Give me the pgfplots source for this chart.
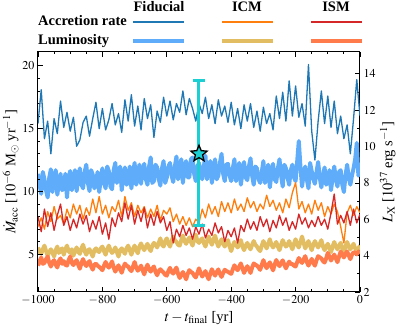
\documentclass[border=0pt]{standalone}
\usepackage{mathptmx}
\usepackage[no-math]{fontspec}
\setmainfont{Liberation Serif}
\usepackage{pgfplots}
\pgfplotsset{compat=1.18}
\usepackage{pgfplotstable}

\definecolor{cFA}{RGB}{31,119,180}
\definecolor{cIA}{RGB}{255,127,14}
\definecolor{cSA}{RGB}{214,39,40}
\definecolor{cFL}{RGB}{95,173,250}
\definecolor{cIL}{RGB}{226,189,98}
\definecolor{cSL}{RGB}{255,123,76}
\definecolor{cErr}{RGB}{28,207,210}

\pgfdeclareplotmark{fstar}{%
  \pgfpathmoveto{\pgfqpointpolar{90}{\pgfplotmarksize}}%
  \pgfpathlineto{\pgfqpointpolar{126}{0.45\pgfplotmarksize}}%
  \pgfpathlineto{\pgfqpointpolar{162}{\pgfplotmarksize}}%
  \pgfpathlineto{\pgfqpointpolar{198}{0.45\pgfplotmarksize}}%
  \pgfpathlineto{\pgfqpointpolar{234}{\pgfplotmarksize}}%
  \pgfpathlineto{\pgfqpointpolar{270}{0.45\pgfplotmarksize}}%
  \pgfpathlineto{\pgfqpointpolar{306}{\pgfplotmarksize}}%
  \pgfpathlineto{\pgfqpointpolar{342}{0.45\pgfplotmarksize}}%
  \pgfpathlineto{\pgfqpointpolar{18}{\pgfplotmarksize}}%
  \pgfpathlineto{\pgfqpointpolar{54}{0.45\pgfplotmarksize}}%
  \pgfpathclose
  \pgfusepathqfillstroke}

% accretion rates [1e-6 Msun/yr]
\pgfplotstableread{
t fa ia sa
-1000 15.4 7.2 8.0
-990 18.1 7.9 6.8
-980 14.2 7.0 8.6
-970 15.6 8.4 7.2
-960 13.0 7.6 8.3
-950 15.8 8.8 6.9
-940 14.6 7.8 8.1
-930 17.2 8.1 9.0
-920 15.1 7.4 7.3
-910 16.3 8.6 8.0
-900 14.8 7.9 6.9
-890 15.9 9.0 7.8
-880 13.6 8.2 7.1
-870 14.1 8.9 8.2
-860 15.5 7.8 7.4
-850 16.0 8.7 8.1
-840 14.4 8.1 6.8
-830 15.8 9.4 7.7
-820 17.1 8.3 7.0
-810 15.0 9.6 8.0
-800 16.6 8.2 6.6
-790 14.9 8.9 7.5
-780 15.7 7.9 6.2
-770 17.0 8.8 7.9
-760 15.3 8.4 7.2
-750 16.2 9.3 8.3
-740 14.7 8.0 7.6
-730 17.3 9.6 9.1
-720 15.6 8.5 7.8
-710 17.7 9.1 8.9
-700 15.2 8.0 7.4
-690 16.8 8.9 8.5
-680 14.9 8.3 7.6
-670 17.4 8.8 8.7
-660 15.8 7.9 7.1
-650 16.9 8.6 8.2
-640 14.3 8.0 7.3
-630 16.4 8.9 8.4
-620 15.5 7.7 7.5
-610 17.5 8.5 8.0
-600 16.0 8.2 6.9
-590 17.2 8.7 7.6
-580 15.7 7.6 5.9
-570 17.0 8.2 7.0
-560 16.3 7.4 6.4
-550 18.0 8.0 7.3
-540 16.1 7.3 6.5
-530 17.4 7.9 7.1
-520 16.6 7.2 6.2
-510 15.6 7.8 7.2
-500 17.0 7.5 6.6
-490 16.2 8.6 7.4
-480 17.5 7.9 6.3
-470 15.8 9.0 7.0
-460 16.9 8.2 6.5
-450 15.4 8.8 7.5
-440 17.3 8.0 6.7
-430 16.0 9.2 7.2
-420 16.8 8.4 6.0
-410 15.5 9.1 6.9
-400 17.1 8.3 6.4
-390 15.3 9.4 7.1
-380 16.6 8.5 5.9
-370 15.0 9.0 7.3
-360 16.9 8.4 6.8
-350 15.6 9.5 7.8
-340 17.0 8.7 7.0
-330 15.1 9.2 7.6
-320 16.4 8.4 6.9
-310 14.8 9.0 8.0
-300 16.7 8.6 7.2
-290 15.4 9.7 7.8
-280 16.2 8.8 6.8
-270 14.9 9.3 7.7
-260 17.6 8.5 7.1
-250 15.8 9.1 8.1
-240 17.9 8.3 7.3
-230 15.6 9.4 7.9
-220 18.8 8.7 6.9
-210 16.0 9.9 7.6
-200 18.4 10.7 7.0
-190 15.9 8.6 8.2
-180 17.0 9.2 7.4
-170 15.2 8.3 7.9
-160 20.1 9.0 7.1
-150 14.8 8.2 7.7
-140 12.5 9.3 7.2
-130 15.6 8.5 8.0
-120 18.0 9.1 7.3
-110 15.4 8.0 7.8
-100 17.6 8.8 7.0
-90 15.1 8.2 8.3
-80 17.2 9.0 9.8
-70 14.6 8.4 7.4
-60 16.0 7.2 8.1
-50 14.2 5.9 7.5
-40 15.3 8.3 8.4
-30 13.0 8.9 7.3
-20 15.8 8.1 8.6
-10 18.9 8.8 7.5
0 16.0 8.3 8.2
}\acctab

% luminosities [1e37 erg/s]
\pgfplotstableread{
t fl il sl
-1000 8.5 4.45 3.45
-995 7.9 4.2 3.7
-990 7.4 4.1 3.9
-985 8.6 4.35 3.55
-980 8.2 4.55 3.6
-975 7.6 4.25 3.8
-970 7.2 4.0 3.95
-965 8.3 4.2 3.6
-960 8.75 4.35 3.4
-955 7.5 4.15 3.65
-950 8.15 3.95 3.75
-945 8.7 4.3 3.5
-940 7.35 4.5 3.35
-935 8.0 4.15 3.7
-930 8.5 4.3 3.85
-925 7.6 4.4 3.55
-920 7.7 4.05 3.7
-915 8.5 4.35 3.5
-910 7.2 4.55 3.45
-905 8.3 4.25 3.75
-900 8.65 4.15 3.95
-895 7.6 4.35 3.6
-890 8.15 4.0 3.48
-885 8.7 4.25 3.65
-880 7.55 4.45 3.75
-875 8.3 4.2 3.5
-870 8.8 4.1 3.28
-865 7.9 4.4 3.6
-860 7.7 4.6 3.81
-855 8.6 4.25 3.55
-850 9.0 4.05 3.43
-845 8.0 4.3 3.6
-840 7.55 4.35 3.7
-835 8.7 4.15 3.4
-830 8.45 3.95 3.23
-825 7.7 4.3 3.5
-820 7.95 4.4 3.56
-815 8.6 4.25 3.45
-810 7.5 4.2 3.38
-805 8.2 4.4 3.3
-800 8.8 4.5 3.2
-795 8.0 4.25 3.45
-790 7.7 4.05 3.65
-785 8.9 4.35 3.45
-780 8.65 4.55 3.34
-775 7.8 4.3 3.5
-770 7.65 4.15 3.68
-765 8.7 4.25 3.35
-760 9.1 4.45 3.12
-755 8.0 4.2 3.3
-750 8.5 3.95 3.47
-745 8.9 4.3 3.25
-740 7.6 4.4 3.06
-735 8.4 4.25 3.35
-730 8.85 4.1 3.56
-725 7.9 4.4 3.45
-720 8.05 4.55 3.4
-715 8.9 4.3 3.25
-710 7.7 4.05 3.15
-705 8.5 4.35 3.4
-700 9.1 4.55 3.65
-695 7.9 4.3 3.35
-690 8.4 4.13 3.17
-685 9.0 4.5 3.3
-680 7.95 4.67 3.45
-675 8.7 4.45 3.2
-670 9.05 4.3 2.97
-665 8.2 4.5 3.3
-660 7.9 4.65 3.5
-655 8.9 4.4 3.25
-650 9.4 4.25 3.12
-645 8.0 4.55 3.3
-640 8.1 4.7 3.4
-635 9.0 4.6 3.1
-630 8.85 4.45 2.92
-625 8.2 4.7 3.15
-620 7.85 4.95 3.25
-615 8.8 4.6 3.15
-610 9.2 4.5 3.07
-605 8.0 4.8 2.95
-600 8.3 4.95 2.9
-595 8.9 4.65 3.15
-590 9.1 4.5 3.33
-585 8.4 4.8 3.1
-580 8.05 5.05 3.01
-575 8.9 4.85 3.2
-570 9.45 4.75 3.34
-565 8.2 4.6 3.0
-560 8.75 4.55 2.77
-555 9.3 4.85 2.95
-550 8.0 5.1 3.1
-545 8.9 4.8 2.9
-540 9.2 4.65 2.7
-535 8.3 4.85 3.0
-530 8.3 5.0 3.2
-525 9.3 4.75 3.1
-520 9.4 4.55 3.05
-515 8.5 4.9 2.9
-510 8.1 5.15 2.8
-505 8.9 4.8 3.05
-500 9.1 4.7 3.3
-495 8.6 4.85 3.05
-490 8.2 4.95 2.85
-485 8.9 4.7 3.0
-480 9.5 4.5 3.15
-475 8.2 4.8 2.9
-470 8.8 5.05 2.7
-465 9.2 4.8 3.0
-460 8.0 4.6 3.25
-455 8.7 4.9 3.05
-450 9.3 5.1 2.9
-445 8.2 4.75 3.1
-440 8.4 4.5 3.24
-435 9.1 4.7 3.0
-430 9.6 4.9 2.83
-425 8.5 4.65 3.05
-420 8.1 4.5 3.22
-415 9.0 4.7 3.15
-410 9.05 4.85 3.11
-405 8.4 4.5 3.05
-400 8.1 4.25 3.0
-395 8.8 4.55 3.25
-390 9.3 4.75 3.47
-385 8.1 4.6 3.3
-380 8.4 4.45 3.2
-375 9.1 4.6 3.4
-370 7.9 4.85 3.57
-365 8.6 4.5 3.3
-360 9.15 4.3 3.05
-355 8.3 4.55 3.25
-350 8.15 4.7 3.42
-345 8.9 4.5 3.25
-340 9.35 4.35 3.05
-335 8.4 4.6 3.35
-330 7.9 4.8 3.57
-325 8.9 4.6 3.5
-320 8.8 4.5 3.45
-315 8.2 4.35 3.35
-310 8.0 4.25 3.22
-305 8.6 4.55 3.5
-300 9.2 4.8 3.75
-295 8.0 4.6 3.5
-290 8.35 4.4 3.31
-285 9.0 4.65 3.5
-280 7.75 4.9 3.63
-275 8.5 4.6 3.4
-270 9.05 4.45 3.19
-265 8.2 4.6 3.5
-260 8.05 4.75 3.76
-255 8.8 4.5 3.55
-250 9.3 4.3 3.42
-245 8.4 4.6 3.6
-240 7.8 4.85 3.74
-235 9.0 4.65 3.5
-230 8.8 4.5 3.3
-225 8.3 4.6 3.5
-220 7.9 4.8 3.67
-215 8.7 4.55 3.55
-210 9.0 4.35 3.53
-205 8.3 4.65 3.45
-200 8.1 4.9 3.4
-195 9.2 4.6 3.65
-190 10.3 4.45 3.87
-185 8.9 4.75 3.7
-180 7.8 5.05 3.6
-175 8.5 4.7 3.8
-170 8.9 4.4 3.97
-165 8.2 4.6 3.65
-160 7.7 4.8 3.45
-155 9.1 4.55 3.65
-150 8.65 4.3 3.82
-145 8.2 4.6 3.6
-140 7.95 4.8 3.45
-135 8.6 4.6 3.75
-130 9.15 4.45 3.97
-125 8.3 4.65 3.9
-120 7.75 4.85 3.85
-115 8.4 4.5 3.7
-110 8.85 4.3 3.62
-105 7.9 4.5 3.85
-100 8.1 4.65 4.15
-95 8.7 4.4 3.95
-90 7.6 4.2 3.73
-85 8.3 4.5 3.9
-80 8.9 4.75 4.06
-75 8.2 4.5 3.85
-70 7.8 4.35 3.64
-65 8.6 4.55 3.95
-60 8.7 4.7 4.22
-55 7.9 4.4 4.05
-50 7.5 4.2 3.9
-45 8.4 4.5 4.1
-40 9.0 4.75 4.23
-35 8.3 4.5 4.0
-30 7.9 4.35 3.81
-25 8.4 4.5 4.05
-20 8.8 4.65 4.19
-15 9.3 4.4 4.15
-10 10.2 4.25 4.07
-5 8.4 4.4 4.2
0 8.6 4.55 4.25
}\lumtab

\pgfplotsset{
  base/.style={
    at={(0pt,0pt)}, anchor=south west,
    scale only axis, width=322pt, height=240pt,
    xmin=-1000, xmax=0,
    tick align=inside,
    major tick length=5pt, minor tick length=2.5pt,
    every tick/.style={black, line width=0.8pt},
    axis line style={line width=1pt},
    tick label style={font=\fontsize{12}{14}\selectfont},
    label style={font=\fontsize{14.5}{17}\selectfont},
    /pgf/number format/1000 sep={},
  }
}

\begin{document}
\begin{tikzpicture}
% Luminosity axis (right)
\begin{axis}[base,
  ymin=2, ymax=15.2,
  xtick={-1000,-800,...,0},
  minor x tick num=3,
  xtick pos=both, xticklabel pos=lower,
  ytick={2,4,...,14},
  minor y tick num=1,
  ytick pos=right, yticklabel pos=right,
  xlabel={$t-t_{\mathrm{final}}$ [yr]},
  ylabel={$L_{\mathrm{X}}$ [$10^{37}$ erg s$^{-1}$]},
  ylabel style={at={(axis description cs:1,0.5)}, rotate=0, anchor=north, yshift=-16.5pt},
]
\addplot[cFL, line width=4pt, line join=round] table[x=t, y=fl] {\lumtab};
\addplot[cIL, line width=4pt, line join=round] table[x=t, y=il] {\lumtab};
\addplot[cSL, line width=4pt, line join=round] table[x=t, y=sl] {\lumtab};
\end{axis}
% Accretion axis (left)
\begin{axis}[base,
  ymin=2, ymax=21.1,
  hide x axis,
  axis y line*=left,
  ytick={5,10,15,20},
  minor y tick num=4,
  ylabel={$\dot{M}_{\mathrm{acc}}$ [$10^{-6}$ M$_{\odot}$ yr$^{-1}$]},
  ylabel style={at={(axis description cs:0,0.5)}, rotate=0, anchor=south, yshift=16pt},
]
\addplot[cFA, line width=1.3pt, line join=round] table[x=t, y=fa] {\acctab};
\addplot[cIA, line width=1.3pt, line join=round] table[x=t, y=ia] {\acctab};
\addplot[cSA, line width=1.3pt, line join=round] table[x=t, y=sa] {\acctab};
\addplot[cErr, line width=3pt, mark=none, forget plot,
  error bars/.cd, y dir=both, y explicit,
  error bar style={line width=3pt, cErr},
  error mark options={rotate=90, mark size=6pt, line width=3pt, cErr}]
  coordinates {(-500,13.05) +- (0,5.79)};
\addplot[only marks, mark=fstar, mark size=8.5pt,
  mark options={fill=cErr, draw=black, line width=1.3pt}]
  coordinates {(-500,13.0)};
\end{axis}
% legend
\begin{scope}[every node/.style={inner sep=0pt, font=\fontsize{14.5}{17}\selectfont\bfseries}]
\node[anchor=base] at (121pt,280pt) {Fiducial};
\node[anchor=base] at (209pt,280pt) {ICM};
\node[anchor=base] at (298pt,280pt) {ISM};
\node[anchor=base west] at (0pt,266pt) {Accretion rate};
\node[anchor=base west] at (0pt,247pt) {Luminosity};
\draw[cFA, line width=1.6pt] (95pt,270pt) -- (146pt,270pt);
\draw[cIA, line width=1.6pt] (184pt,270pt) -- (235pt,270pt);
\draw[cSA, line width=1.6pt] (273pt,270pt) -- (324pt,270pt);
\draw[cFL, line width=4pt] (95pt,251pt) -- (146pt,251pt);
\draw[cIL, line width=4pt] (184pt,251pt) -- (235pt,251pt);
\draw[cSL, line width=4pt] (273pt,251pt) -- (324pt,251pt);
\end{scope}
\pgfresetboundingbox
\useasboundingbox (-38pt,-34pt) rectangle (359pt,292pt);
\end{tikzpicture}
\end{document}
